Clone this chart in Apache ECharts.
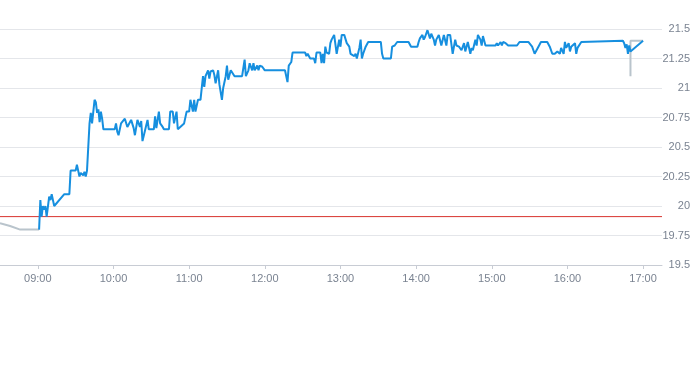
<!DOCTYPE html>
<html>
<head>
<meta charset="utf-8">
<style>
  html, body { margin: 0; padding: 0; background: #ffffff; }
  #chart { width: 693px; height: 365px; }
</style>
<script src="https://cdn.jsdelivr.net/npm/echarts@6/dist/echarts.min.js"></script>
</head>
<body>
<div id="chart"></div>
<script>
// ---- data ----
const tradeTimes = [
  "09:01","09:02","09:03","09:04","09:05","09:06","09:07","09:09","09:10","09:11",
  "09:12","09:13","09:21","09:25","09:26","09:30","09:31","09:32","09:33","09:34",
  "09:36","09:37","09:38","09:39","09:40","09:41","09:42","09:43","09:44","09:45",
  "09:46","09:47","09:48","09:49","09:50","09:51","09:52","10:01","10:02","10:03",
  "10:04","10:06","10:09","10:10","10:11","10:13","10:14","10:16","10:17","10:19",
  "10:21","10:22","10:23","10:25","10:27","10:28","10:32","10:33","10:34","10:36",
  "10:37","10:39","10:40","10:44","10:45","10:47","10:48","10:50","10:51","10:56",
  "10:58","11:00","11:01","11:03","11:04","11:05","11:07","11:09","11:11","11:12",
  "11:13","11:15","11:16","11:17","11:19","11:20","11:21","11:23","11:24","11:26",
  "11:27","11:29","11:30","11:31","11:33","11:34","11:36","11:42","11:44","11:45",
  "11:47","11:48","11:50","11:51","11:52","11:54","11:55","11:56","11:58","11:59",
  "12:00","12:16","12:18","12:19","12:21","12:22","12:32","12:33","12:34","12:36",
  "12:39","12:40","12:41","12:44","12:45","12:46","12:47","12:48","12:49","12:51",
  "12:52","12:53","12:55","12:56","12:57","12:59","13:00","13:01","13:03","13:05",
  "13:07","13:08","13:11","13:12","13:13","13:15","13:16","13:17","13:18","13:20",
  "13:22","13:32","13:33","13:34","13:40","13:41","13:43","13:45","13:54","13:56",
  "14:01","14:02","14:03","14:05","14:06","14:07","14:09","14:11","14:12","14:14",
  "14:15","14:16","14:18","14:20","14:22","14:24","14:25","14:27","14:29","14:31",
  "14:32","14:34","14:36","14:38","14:39","14:41","14:43","14:44","14:45","14:47",
  "14:48","14:49","14:51","14:52","14:53","14:55","15:03","15:04","15:05","15:07",
  "15:08","15:09","15:11","15:12","15:13","15:16","15:20","15:22","15:29","15:32",
  "15:34","15:37","15:39","15:44","15:46","15:48","15:50","15:52","15:54","15:55",
  "15:57","15:58","15:59","16:01","16:02","16:03","16:06","16:07","16:08","16:11",
  "16:12","16:44","16:45","16:46","16:47","16:48","16:49","16:50","17:00"
];
const tradePrices = [
  19.80,20.05,19.91,20.00,19.97,20.00,19.91,20.08,20.05,20.10,
  20.05,20.00,20.10,20.10,20.30,20.30,20.35,20.30,20.25,20.28,
  20.26,20.29,20.25,20.30,20.30,20.70,20.79,20.70,20.80,20.90,
  20.88,20.79,20.82,20.71,20.80,20.74,20.65,20.65,20.70,20.63,
  20.60,20.70,20.74,20.74,20.67,20.71,20.73,20.66,20.60,20.73,
  20.67,20.72,20.55,20.64,20.73,20.65,20.65,20.76,20.66,20.80,
  20.70,20.67,20.65,20.65,20.80,20.80,20.70,20.80,20.65,20.70,
  20.80,20.80,20.90,20.80,20.90,20.80,20.90,20.90,21.10,21.01,
  21.10,21.15,21.08,21.14,21.15,21.11,21.04,21.15,21.03,20.90,
  21.00,21.10,21.19,21.07,21.15,21.14,21.10,21.10,21.24,21.10,
  21.15,21.21,21.15,21.21,21.15,21.19,21.15,21.19,21.18,21.19,
  21.15,21.15,21.05,21.19,21.22,21.30,21.30,21.27,21.29,21.25,
  21.25,21.21,21.30,21.30,21.21,21.29,21.21,21.35,21.30,21.29,
  21.38,21.41,21.45,21.45,21.29,21.41,21.35,21.45,21.45,21.38,
  21.35,21.29,21.27,21.29,21.25,21.34,21.41,21.25,21.29,21.35,
  21.39,21.39,21.29,21.25,21.25,21.35,21.36,21.39,21.39,21.35,
  21.35,21.39,21.42,21.45,21.41,21.43,21.49,21.42,21.46,21.41,
  21.36,21.41,21.45,21.36,21.45,21.36,21.45,21.45,21.29,21.41,
  21.36,21.35,21.32,21.38,21.31,21.39,21.29,21.34,21.32,21.41,
  21.36,21.45,21.41,21.36,21.44,21.36,21.36,21.38,21.36,21.39,
  21.36,21.39,21.38,21.39,21.36,21.36,21.36,21.39,21.39,21.35,
  21.29,21.35,21.39,21.39,21.35,21.29,21.29,21.31,21.29,21.34,
  21.29,21.39,21.34,21.38,21.31,21.35,21.38,21.29,21.34,21.39,
  21.40,21.40,21.38,21.34,21.37,21.29,21.36,21.31,21.40
];
const preTimes = ["08:30","08:38","08:46","09:01"];
const prePrices = [19.855,19.83,19.80,19.80];
const postTimes = ["16:50","16:50","17:00"];
const postPrices = [21.10,21.40,21.40];
const prevClose = 19.91;
const yTicks = [19.5,19.75,20,20.25,20.5,20.75,21,21.25,21.5];
const axisStart = "08:30";
const axisEnd = "17:15";

// ---- helpers ----
function toDate(hm) {
  const p = hm.split(":");
  return new Date(2024, 0, 2, +p[0], +p[1]).getTime();
}
function pairs(ts, vs) { return ts.map((t, i) => [toDate(t), vs[i]]); }

const labelStyle = { color: '#7a8391', fontSize: 11, fontWeight: 'normal', fontFamily: 'Liberation Sans, Arial, sans-serif' };

const chart = echarts.init(document.getElementById('chart'), null, { renderer: 'canvas' });
chart.setOption({
  animation: false,
  grid: { left: 0, right: 30, top: 29, bottom: 100, containLabel: false },
  xAxis: {
    type: 'time',
    min: toDate(axisStart),
    max: toDate(axisEnd),
    minInterval: 3600 * 1000,
    maxInterval: 3600 * 1000,
    splitLine: { show: false },
    axisLine: { lineStyle: { color: '#c8ccd4', width: 1 } },
    axisTick: { show: true, length: 4, lineStyle: { color: '#c8ccd4' } },
    axisLabel: Object.assign({
      formatter: '{HH}:{mm}', margin: 8, showMinLabel: false, showMaxLabel: false, hideOverlap: false
    }, labelStyle)
  },
  yAxis: {
    type: 'value',
    position: 'right',
    min: yTicks[0],
    max: yTicks[yTicks.length - 1],
    interval: 0.25,
    axisLine: { show: false },
    axisTick: { show: false },
    splitLine: { lineStyle: { color: '#e4e6ea', width: 1 } },
    axisLabel: Object.assign({ align: 'right', margin: 28 }, labelStyle)
  },
  series: [
    {
      type: 'line', data: [[toDate(axisStart), prevClose], [toDate(axisEnd), prevClose]],
      showSymbol: false, silent: true,
      lineStyle: { color: '#d8342e', width: 1 }, z: 1
    },
    {
      type: 'line', data: pairs(preTimes, prePrices), showSymbol: false,
      lineStyle: { color: '#b9c4cc', width: 2 }, z: 2
    },
    {
      type: 'line', data: pairs(postTimes, postPrices), showSymbol: false,
      lineStyle: { color: '#b9c4cc', width: 2 }, z: 2
    },
    {
      type: 'line', data: pairs(tradeTimes, tradePrices), showSymbol: false,
      lineStyle: { color: '#168fdf', width: 2 }, z: 3
    }
  ]
});
</script>
</body>
</html>
